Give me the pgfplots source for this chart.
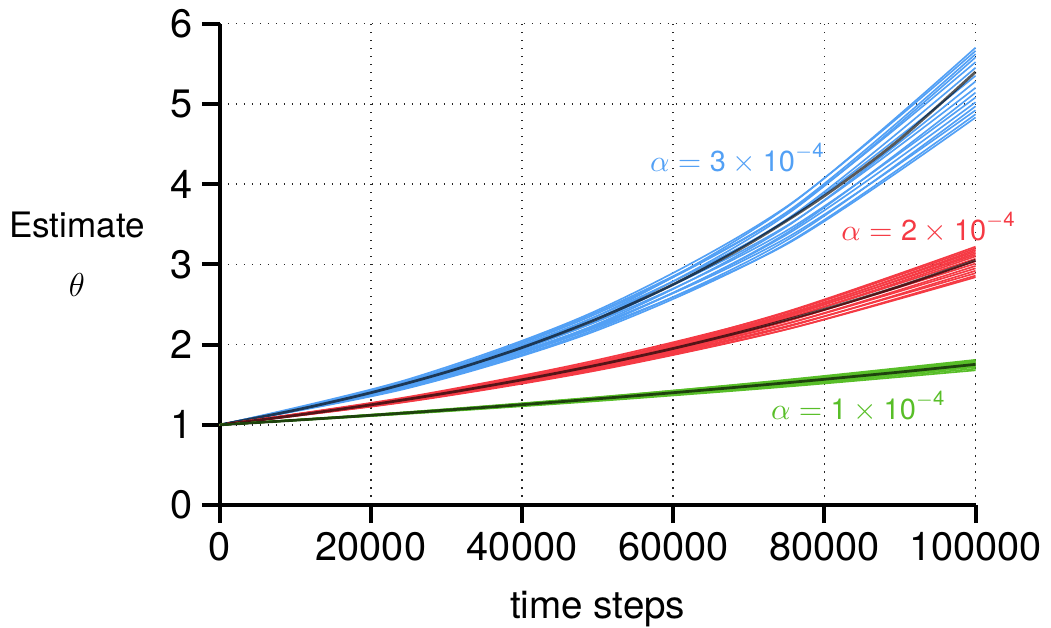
\documentclass[border=0pt]{standalone}
\usepackage{fontspec}
\setmainfont{TeX Gyre Heros}
\usepackage{amsmath}
\usepackage{pgfplots}
\pgfplotsset{compat=1.18}
\definecolor{runblue}{RGB}{82,160,245}
\definecolor{runred}{RGB}{245,58,68}
\definecolor{rungreen}{RGB}{88,190,40}
\pgfplotsset{
  run/.style={line width=0.6pt, smooth, no markers},
  avg/.style={black, opacity=0.65, line width=1pt, smooth, no markers},
}
\begin{document}
\begin{tikzpicture}
\begin{axis}[
  scale only axis, width=274pt, height=174.6pt,
  xmin=0, xmax=100000, ymin=0, ymax=6,
  axis x line*=bottom, axis y line*=left,
  axis line style={line width=1.45pt, -},
  xtick={0,20000,40000,60000,80000,100000},
  ytick={0,1,2,3,4,5,6},
  scaled x ticks=false,
  xticklabel style={/pgf/number format/fixed, /pgf/number format/1000 sep={}},
  /pgf/number format/assume math mode=true,
  tick label style={font=\fontsize{14.4}{16}\selectfont},
  tick align=outside, major tick length=6.5pt,
  tick style={black, line width=1.45pt},
  grid=major,
  grid style={black!85, line width=0.6pt, dash pattern=on 0.6pt off 2.3pt},
  xlabel={time steps},
  xlabel style={at={(axis description cs:0.5,-0.236)}, anchor=base, inner sep=0pt,
    font=\fontsize{14}{16}\selectfont},
  ylabel={Estimate\\$\theta$},
  ylabel style={at={(axis description cs:-0.189,0.521)}, rotate=-90, anchor=center,
    align=center, font=\fontsize{12.7}{21.7}\selectfont},
  clip=false,
]
% alpha = 3e-4 runs
\addplot[run, runblue] coordinates {(0,1) (25000,1.52) (50000,2.36) (75000,3.71) (100000,5.70)};
\addplot[run, runblue] coordinates {(0,1) (25000,1.57) (50000,2.43) (75000,3.72) (100000,5.66)};
\addplot[run, runblue] coordinates {(0,1) (25000,1.55) (50000,2.41) (75000,3.65) (100000,5.62)};
\addplot[run, runblue] coordinates {(0,1) (25000,1.51) (50000,2.33) (75000,3.62) (100000,5.58)};
\addplot[run, runblue] coordinates {(0,1) (25000,1.55) (50000,2.39) (75000,3.64) (100000,5.52)};
\addplot[run, runblue] coordinates {(0,1) (25000,1.50) (50000,2.30) (75000,3.56) (100000,5.45)};
\addplot[run, runblue] coordinates {(0,1) (25000,1.54) (50000,2.36) (75000,3.55) (100000,5.35)};
\addplot[run, runblue] coordinates {(0,1) (25000,1.49) (50000,2.26) (75000,3.47) (100000,5.28)};
\addplot[run, runblue] coordinates {(0,1) (25000,1.53) (50000,2.33) (75000,3.48) (100000,5.20)};
\addplot[run, runblue] coordinates {(0,1) (25000,1.48) (50000,2.23) (75000,3.39) (100000,5.14)};
\addplot[run, runblue] coordinates {(0,1) (25000,1.52) (50000,2.29) (75000,3.42) (100000,5.08)};
\addplot[run, runblue] coordinates {(0,1) (25000,1.50) (50000,2.24) (75000,3.37) (100000,5.02)};
\addplot[run, runblue] coordinates {(0,1) (25000,1.47) (50000,2.20) (75000,3.30) (100000,4.97)};
\addplot[run, runblue] coordinates {(0,1) (25000,1.51) (50000,2.25) (75000,3.33) (100000,4.92)};
\addplot[run, runblue] coordinates {(0,1) (25000,1.46) (50000,2.18) (75000,3.26) (100000,4.87)};
\addplot[run, runblue] coordinates {(0,1) (25000,1.49) (50000,2.22) (75000,3.25) (100000,4.83)};
\addplot[avg] coordinates {(0,1) (10000,1.184) (20000,1.401) (30000,1.658) (40000,1.963) (50000,2.323)
  (60000,2.750) (70000,3.255) (80000,3.853) (90000,4.560) (100000,5.398)};
% alpha = 2e-4 runs
\addplot[run, runred] coordinates {(0,1) (25000,1.330) (50000,1.78) (75000,2.41) (100000,3.22)};
\addplot[run, runred] coordinates {(0,1) (25000,1.350) (50000,1.81) (75000,2.40) (100000,3.20)};
\addplot[run, runred] coordinates {(0,1) (25000,1.330) (50000,1.79) (75000,2.37) (100000,3.18)};
\addplot[run, runred] coordinates {(0,1) (25000,1.340) (50000,1.79) (75000,2.38) (100000,3.16)};
\addplot[run, runred] coordinates {(0,1) (25000,1.320) (50000,1.76) (75000,2.35) (100000,3.14)};
\addplot[run, runred] coordinates {(0,1) (25000,1.340) (50000,1.78) (75000,2.36) (100000,3.12)};
\addplot[run, runred] coordinates {(0,1) (25000,1.320) (50000,1.75) (75000,2.33) (100000,3.10)};
\addplot[run, runred] coordinates {(0,1) (25000,1.335) (50000,1.765) (75000,2.33) (100000,3.07)};
\addplot[run, runred] coordinates {(0,1) (25000,1.310) (50000,1.73) (75000,2.29) (100000,3.04)};
\addplot[run, runred] coordinates {(0,1) (25000,1.325) (50000,1.75) (75000,2.30) (100000,3.01)};
\addplot[run, runred] coordinates {(0,1) (25000,1.305) (50000,1.715) (75000,2.26) (100000,2.98)};
\addplot[run, runred] coordinates {(0,1) (25000,1.320) (50000,1.735) (75000,2.26) (100000,2.95)};
\addplot[run, runred] coordinates {(0,1) (25000,1.295) (50000,1.695) (75000,2.22) (100000,2.92)};
\addplot[run, runred] coordinates {(0,1) (25000,1.310) (50000,1.71) (75000,2.23) (100000,2.89)};
\addplot[run, runred] coordinates {(0,1) (25000,1.290) (50000,1.68) (75000,2.19) (100000,2.86)};
\addplot[run, runred] coordinates {(0,1) (25000,1.300) (50000,1.69) (75000,2.19) (100000,2.84)};
\addplot[avg] coordinates {(0,1) (10000,1.118) (20000,1.250) (30000,1.397) (40000,1.562) (50000,1.746)
  (60000,1.952) (70000,2.183) (80000,2.440) (90000,2.728) (100000,3.050)};
% alpha = 1e-4 runs
\addplot[run, rungreen] coordinates {(0,1) (25000,1.158) (50000,1.343) (75000,1.562) (100000,1.81)};
\addplot[run, rungreen] coordinates {(0,1) (25000,1.161) (50000,1.346) (75000,1.556) (100000,1.80)};
\addplot[run, rungreen] coordinates {(0,1) (25000,1.155) (50000,1.336) (75000,1.549) (100000,1.79)};
\addplot[run, rungreen] coordinates {(0,1) (25000,1.157) (50000,1.337) (75000,1.540) (100000,1.78)};
\addplot[run, rungreen] coordinates {(0,1) (25000,1.152) (50000,1.330) (75000,1.537) (100000,1.77)};
\addplot[run, rungreen] coordinates {(0,1) (25000,1.154) (50000,1.329) (75000,1.527) (100000,1.76)};
\addplot[run, rungreen] coordinates {(0,1) (25000,1.149) (50000,1.322) (75000,1.523) (100000,1.75)};
\addplot[run, rungreen] coordinates {(0,1) (25000,1.151) (50000,1.321) (75000,1.514) (100000,1.74)};
\addplot[run, rungreen] coordinates {(0,1) (25000,1.146) (50000,1.314) (75000,1.510) (100000,1.73)};
\addplot[run, rungreen] coordinates {(0,1) (25000,1.147) (50000,1.313) (75000,1.500) (100000,1.72)};
\addplot[run, rungreen] coordinates {(0,1) (25000,1.142) (50000,1.305) (75000,1.489) (100000,1.70)};
\addplot[run, rungreen] coordinates {(0,1) (25000,1.139) (50000,1.297) (75000,1.476) (100000,1.68)};
\addplot[avg] coordinates {(0,1) (10000,1.058) (20000,1.119) (30000,1.184) (40000,1.252) (50000,1.325)
  (60000,1.401) (70000,1.482) (80000,1.568) (90000,1.658) (100000,1.754)};
% labels
\node[runblue, anchor=base, font=\fontsize{10.5}{12}\selectfont] at (axis cs:68500,4.16)
  {$\alpha=\text{3}\times\text{10}^{\text{$-$4}}$};
\node[runred, anchor=base, font=\fontsize{10.5}{12}\selectfont] at (axis cs:93800,3.30)
  {$\alpha=\text{2}\times\text{10}^{\text{$-$4}}$};
\node[rungreen, anchor=base, font=\fontsize{10.5}{12}\selectfont] at (axis cs:84500,1.07)
  {$\alpha=\text{1}\times\text{10}^{\text{$-$4}}$};
\end{axis}
\end{tikzpicture}
\end{document}
